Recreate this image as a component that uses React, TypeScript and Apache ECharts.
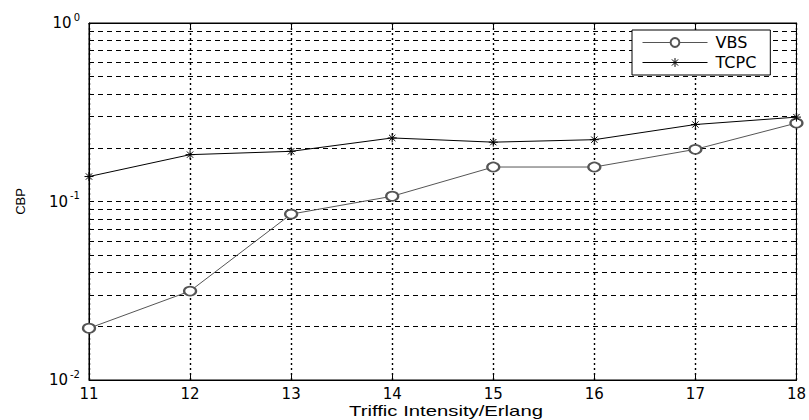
import React, { useEffect, useRef } from "react";
import * as echarts from "echarts";

const xValues = [11, 12, 13, 14, 15, 16, 17, 18];
const vbs = [0.0195, 0.0315, 0.085, 0.107, 0.156, 0.156, 0.196, 0.275];
const tcpc = [0.138, 0.183, 0.191, 0.227, 0.215, 0.222, 0.27, 0.297];
const minorGrid = [0.02, 0.03, 0.04, 0.05, 0.06, 0.07, 0.08, 0.09, 0.2, 0.3, 0.4, 0.5, 0.6, 0.7, 0.8, 0.9];
const xName = "Triffic Intensity/Erlang";
const yName = "CBP";

const asterisk = "path://M5,0L5,10M0,5L10,5M1.5,1.5L8.5,8.5M1.5,8.5L8.5,1.5";
const FONT = "DejaVu Sans";

export default function App() {
  const ref = useRef<HTMLDivElement>(null);
  useEffect(() => {
    if (!ref.current) return;
    const chart = echarts.init(ref.current, null, { renderer: "svg" });
    const fmtY = (v: number) => {
      const e = Math.round(Math.log10(v));
      return `{a|10}{b|${e}}`;
    };
    chart.setOption({
      animation: false,
      backgroundColor: "#fff",
      grid: { left: 89, right: 12, top: 23, bottom: 40, show: true, borderColor: "#000", borderWidth: 1 },
      legend: {
        left: 632,
        top: 30,
        z: 20,
        orient: "vertical",
        itemWidth: 65,
        itemHeight: 11,
        itemGap: 3,
        padding: [4, 14, 4, 10],
        borderColor: "#000",
        borderWidth: 1,
        backgroundColor: "#fff",
        itemStyle: { borderWidth: 1 },
        lineStyle: { width: 1 },
        textStyle: { fontFamily: FONT, fontSize: 16, color: "#000", lineHeight: 17, padding: [0, 0, 0, 3] },
        data: ["VBS", "TCPC"],
      },
      graphic: [
        {
          type: "text",
          x: 446,
          y: 411,
          scaleX: 1.45,
          style: {
            text: xName,
            fontFamily: "Liberation Sans",
            fontSize: 14,
            fill: "#000",
            align: "center",
            verticalAlign: "middle",
          },
        },
      ],
      xAxis: [
        {
          type: "value",
          min: 11,
          max: 18,
          interval: 1,
          axisLine: { show: true, lineStyle: { color: "#000", width: 1 } },
          axisTick: { show: true, inside: true, length: 5, lineStyle: { color: "#000" } },
          axisLabel: { color: "#000", fontFamily: FONT, fontSize: 15, margin: 6 },
          splitLine: { show: true, lineStyle: { color: "#000", type: [2, 3], width: 1.4 } },
        },
        {
          type: "value",
          min: 11,
          max: 18,
          interval: 1,
          position: "top",
          axisLine: { show: true, lineStyle: { color: "#000", width: 1 } },
          axisTick: { show: true, inside: true, length: 5, lineStyle: { color: "#000" } },
          axisLabel: { show: false },
          splitLine: { show: false },
        },
      ],
      yAxis: [
        {
          type: "log",
          logBase: 10,
          min: 0.01,
          max: 1,
          name: yName,
          nameLocation: "middle",
          nameGap: 62,
          nameRotate: 90,
          nameTextStyle: { fontFamily: "Liberation Sans", fontSize: 13, color: "#000" },
          axisLine: { show: true, lineStyle: { color: "#000", width: 1 } },
          axisTick: { show: true, inside: true, length: 5, lineStyle: { color: "#000" } },
          axisLabel: {
            color: "#000",
            margin: 9,
            formatter: fmtY,
            rich: {
              a: { fontFamily: FONT, fontSize: 15, color: "#000", lineHeight: 22 },
              b: { fontFamily: FONT, fontSize: 10, color: "#000", verticalAlign: "top", lineHeight: 10, padding: [0, 0, 0, 2] },
            },
          },
          splitLine: { show: true, lineStyle: { color: "#000", type: [5, 4], width: 1 } },
        },
        {
          type: "log",
          logBase: 10,
          min: 0.01,
          max: 1,
          position: "right",
          axisLine: { show: true, lineStyle: { color: "#000", width: 1 } },
          axisTick: { show: true, inside: true, length: 5, lineStyle: { color: "#000" } },
          axisLabel: { show: false },
          splitLine: { show: false },
        },
      ],
      series: [
        {
          name: "VBS",
          type: "line",
          z: 3,
          data: xValues.map((x, i) => [x, vbs[i]]),
          symbol: "emptyCircle",
          symbolSize: [12, 9],
          showAllSymbol: true,
          lineStyle: { color: "#555", width: 1 },
          itemStyle: { color: "#555", borderColor: "#555", borderWidth: 0.8 },
          markLine: {
            silent: true,
            z: 1,
            symbol: ["none", "none"],
            label: { show: false },
            lineStyle: { color: "#000", type: [5, 4], width: 1 },
            data: minorGrid.map((v) => ({ yAxis: v })),
          },
        },
        {
          name: "TCPC",
          type: "line",
          z: 3,
          data: xValues.map((x, i) => [x, tcpc[i]]),
          symbol: asterisk,
          symbolSize: 9,
          showAllSymbol: true,
          lineStyle: { color: "#000", width: 1 },
          itemStyle: { color: "#000", borderColor: "#000", borderWidth: 1 },
        },
      ],
    });
    return () => chart.dispose();
  }, []);
  return (
    <div
      ref={ref}
      style={{ position: "fixed", left: 0, top: 0, width: 809, height: 420, background: "#fff" }}
    />
  );
}
